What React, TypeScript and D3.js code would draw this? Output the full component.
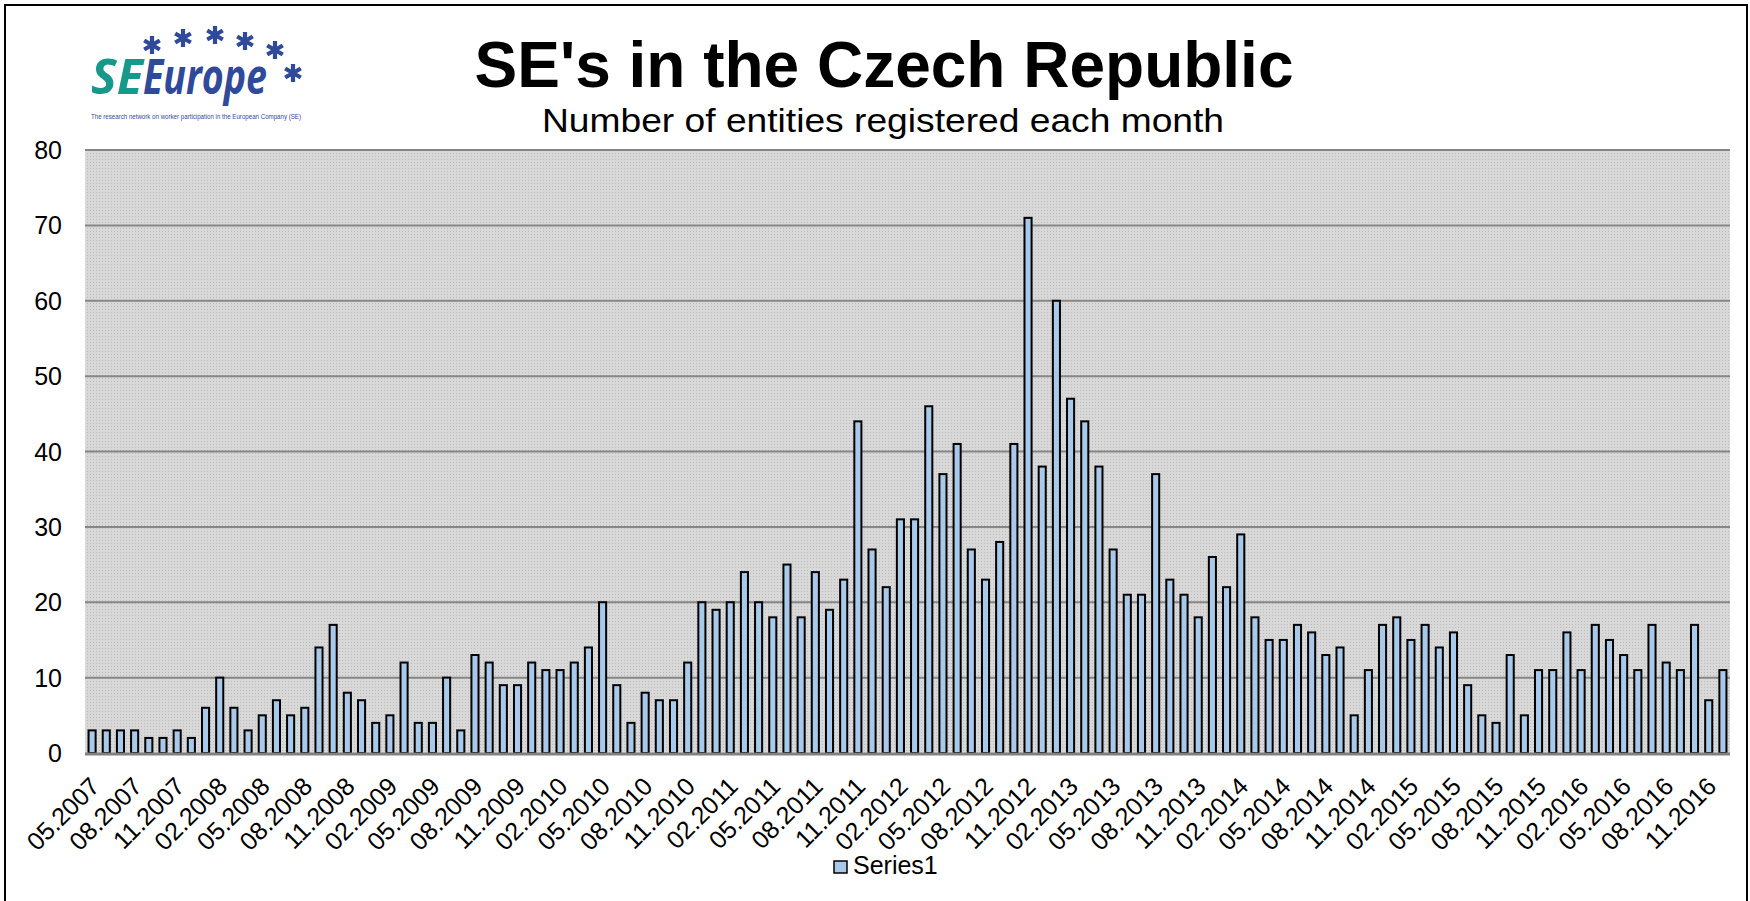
import React, { useRef, useEffect } from 'react';
import * as d3 from 'd3';

// monthly SE registrations, 05.2007 - 12.2016
const seCounts = [
  3, 3, 3, 3, 2, 2, 3, 2, // 2007 (May-Dec)
  6, 10, 6, 3, 5, 7, 5, 6, 14, 17, 8, 7, // 2008
  4, 5, 12, 4, 4, 10, 3, 13, 12, 9, 9, 12, // 2009
  11, 11, 12, 14, 20, 9, 4, 8, 7, 7, 12, 20, // 2010
  19, 20, 24, 20, 18, 25, 18, 24, 19, 23, 44, 27, // 2011
  22, 31, 31, 46, 37, 41, 27, 23, 28, 41, 71, 38, // 2012
  60, 47, 44, 38, 27, 21, 21, 37, 23, 21, 18, 26, // 2013
  22, 29, 18, 15, 15, 17, 16, 13, 14, 5, 11, 17, // 2014
  18, 15, 17, 14, 16, 9, 5, 4, 13, 5, 11, 11, // 2015
  16, 11, 17, 15, 13, 11, 17, 12, 11, 17, 7, 11, // 2016
];

const firstMonth = new Date(2007, 4, 1);
const months = d3.timeMonth.range(firstMonth, d3.timeMonth.offset(firstMonth, seCounts.length));
const categories = months.map(d3.timeFormat('%m.%Y'));
const yTicks = [0, 10, 20, 30, 40, 50, 60, 70, 80];

const title = "SE's in the Czech Republic";
const subtitle = 'Number of entities registered each month';
const seriesName = 'Series1';

const FONT = '"Liberation Sans", Arial, sans-serif';
const BAR_FILL = '#a8c9ea';

const App = () => {
  const svgRef = useRef<SVGSVGElement>(null);

  useEffect(() => {
    const width = 1750;
    const height = 901;
    const svg = d3.select(svgRef.current);
    svg.selectAll('*').remove();

    const plot = { left: 85, right: 1730, top: 150, bottom: 753 };

    const x = d3.scaleBand()
      .domain(categories)
      .range([plot.left, plot.right])
      .paddingInner(0.5)
      .paddingOuter(0.25);

    const y = d3.scaleLinear()
      .domain([0, 80])
      .range([plot.bottom, plot.top]);

    // dotted grey fill of the plot area
    const defs = svg.append('defs');
    const pat = defs.append('pattern')
      .attr('id', 'dots')
      .attr('width', 3)
      .attr('height', 3)
      .attr('patternUnits', 'userSpaceOnUse');
    pat.append('rect').attr('width', 3).attr('height', 3).attr('fill', '#d8d8d8');
    pat.append('rect').attr('width', 1).attr('height', 1).attr('fill', '#bcbcbc');

    svg.append('rect')
      .attr('width', width)
      .attr('height', height)
      .attr('fill', '#ffffff');

    // outer frame
    svg.append('rect')
      .attr('x', 5)
      .attr('y', 5)
      .attr('width', 1742)
      .attr('height', 910)
      .attr('fill', 'none')
      .attr('stroke', '#000')
      .attr('stroke-width', 2);

    svg.append('rect')
      .attr('x', plot.left)
      .attr('y', plot.top)
      .attr('width', plot.right - plot.left)
      .attr('height', plot.bottom - plot.top)
      .attr('fill', 'url(#dots)');

    // gridlines
    svg.append('g')
      .selectAll('line')
      .data(yTicks.filter(t => t > 0))
      .join('line')
      .attr('x1', plot.left)
      .attr('x2', plot.right)
      .attr('y1', d => y(d))
      .attr('y2', d => y(d))
      .attr('stroke', '#868686')
      .attr('stroke-width', 2);

    // y labels
    svg.append('g')
      .selectAll('text')
      .data(yTicks)
      .join('text')
      .attr('x', 62)
      .attr('y', d => y(d) + 9)
      .attr('text-anchor', 'end')
      .style('font-family', FONT)
      .style('font-size', '25px')
      .attr('fill', '#000')
      .text(d => d);

    // bars
    svg.append('g')
      .selectAll('rect')
      .data(seCounts)
      .join('rect')
      .attr('x', (d, i) => x(categories[i]))
      .attr('y', d => y(d))
      .attr('width', x.bandwidth())
      .attr('height', d => plot.bottom - y(d))
      .attr('fill', BAR_FILL)
      .attr('stroke', '#000')
      .attr('stroke-width', 2);

    // category axis line
    svg.append('line')
      .attr('x1', plot.left)
      .attr('x2', plot.right)
      .attr('y1', plot.bottom + 1)
      .attr('y2', plot.bottom + 1)
      .attr('stroke', '#808080')
      .attr('stroke-width', 3);

    // x labels, every third month
    svg.append('g')
      .selectAll('text')
      .data(categories.filter((c, i) => i % 3 === 0))
      .join('text')
      .attr('transform', d => `translate(${x(d) + x.bandwidth() / 2 + 9},788) rotate(-45)`)
      .attr('text-anchor', 'end')
      .style('font-family', FONT)
      .style('font-size', '25px')
      .attr('fill', '#000')
      .text(d => d);

    // titles
    svg.append('text')
      .attr('x', 884)
      .attr('y', 87)
      .attr('text-anchor', 'middle')
      .style('font-family', FONT)
      .style('font-size', '64px')
      .style('font-weight', 'bold')
      .text(title);

    svg.append('text')
      .attr('x', 542)
      .attr('y', 132)
      .attr('textLength', 682)
      .attr('lengthAdjust', 'spacingAndGlyphs')
      .style('font-family', FONT)
      .style('font-size', '33px')
      .text(subtitle);

    // legend
    svg.append('rect')
      .attr('x', 834)
      .attr('y', 861)
      .attr('width', 13)
      .attr('height', 12)
      .attr('fill', BAR_FILL)
      .attr('stroke', '#000')
      .attr('stroke-width', 1.5);
    svg.append('text')
      .attr('x', 853)
      .attr('y', 874)
      .style('font-family', FONT)
      .style('font-size', '25px')
      .text(seriesName);

    // SEEurope logo
    const logo = svg.append('g');
    logo.append('text')
      .attr('x', 91)
      .attr('y', 94)
      .attr('textLength', 52)
      .attr('lengthAdjust', 'spacingAndGlyphs')
      .style('font-family', '"Open Sans", sans-serif')
      .style('font-size', '48px')
      .style('font-weight', 'bold')
      .style('font-style', 'italic')
      .attr('fill', '#16998a')
      .text('SE');
    logo.append('text')
      .attr('x', 143)
      .attr('y', 94)
      .attr('textLength', 124)
      .attr('lengthAdjust', 'spacingAndGlyphs')
      .style('font-family', '"Open Sans", sans-serif')
      .style('font-size', '48px')
      .style('font-weight', 'bold')
      .style('font-style', 'italic')
      .attr('fill', '#2f4a9a')
      .text('Europe');

    const stars = [[152, 45], [183, 38], [215, 35], [245, 41], [275, 50], [293, 73]];
    stars.forEach(([cx, cy]) => {
      const r = 9;
      const arms = d3.range(6).map(k => {
        const a = (k * Math.PI) / 3 - Math.PI / 2;
        return `M${cx},${cy}L${cx + r * Math.cos(a)},${cy + r * Math.sin(a)}`;
      }).join('');
      logo.append('path')
        .attr('d', arms)
        .attr('stroke', '#2f4a9a')
        .attr('stroke-width', 4.2)
        .attr('stroke-linecap', 'butt');
    });

    logo.append('text')
      .attr('x', 91)
      .attr('y', 119)
      .attr('textLength', 210)
      .attr('lengthAdjust', 'spacingAndGlyphs')
      .style('font-family', FONT)
      .style('font-size', '6.5px')
      .attr('fill', '#2f4a9a')
      .text('The research network on worker participation in the European Company (SE)');
  }, []);

  return (
    <div style={{ position: 'absolute', left: 0, top: 0 }}>
      <svg ref={svgRef} width={1750} height={901} style={{ display: 'block' }}></svg>
    </div>
  );
};

export default App;
